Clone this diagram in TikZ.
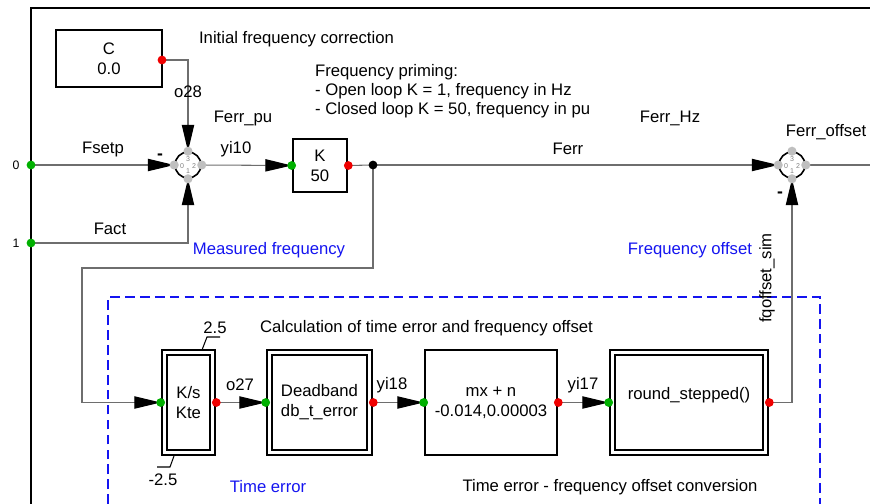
\documentclass[tikz,border=0pt]{standalone}
\usepackage{fontspec}
\setmainfont{Liberation Sans}
\usetikzlibrary{arrows.meta, positioning, calc}
\definecolor{portgreen}{RGB}{0,176,0}
\definecolor{portred}{RGB}{240,0,0}
\definecolor{sigline}{RGB}{110,110,110}
\definecolor{notblue}{RGB}{20,20,240}
\begin{document}
\begin{tikzpicture}[
  x=0.02cm, y=-0.02cm,
  every node/.style={font=\fontsize{9.5}{11.5}\selectfont, inner sep=1pt},
  block/.style={draw, line width=1.5pt, align=center, inner sep=0pt},
  dblock/.style={block, path picture={
      \draw[line width=0.9pt]
        ([shift={(3pt,-3pt)}]path picture bounding box.north west) rectangle
        ([shift={(-3pt,3pt)}]path picture bounding box.south east);}},
  sumnode/.style={draw, circle, line width=0.9pt, minimum size=0.52cm, inner sep=0pt},
  sig/.style={draw=sigline, line width=0.6pt},
  arr/.style={sig, -{Triangle[length=15pt, width=7pt, color=black]}},
  note/.style={align=left, anchor=west},
  blue note/.style={text=notblue},
  digit/.style={font=\fontsize{4}{4}\selectfont, text=gray, inner sep=0pt}
]
  \useasboundingbox (0,0) rectangle (870,504);

  % frame and time error group
  \draw[line width=1pt] (31,504) -- (31,8) -- (870,8);
  \draw[notblue, line width=0.6pt, dash pattern=on 5.5pt off 3pt]
    (108,504) -- (108,297) -- (820,297) -- (820,504);

  % blocks
  \node[block, minimum width=2.12cm, minimum height=1.14cm] (C)  at (109,58.5) {C\\0.0};
  \node[block, minimum width=1.08cm, minimum height=1.06cm] (K)  at (320,165.5) {K\\50};
  \node[dblock, minimum width=1.06cm, minimum height=2.1cm] (Ks) at (188.5,402.5) {K/s\\Kte};
  \node[dblock, minimum width=2.1cm,  minimum height=2.1cm] (DB) at (319.5,402.5) {Deadband\\db\_t\_error};
  \node[block,  minimum width=2.64cm, minimum height=2.1cm] (MX) at (491,402.5) {mx + n\\-0.014,0.00003};
  \node[dblock, minimum width=3.16cm, minimum height=2.1cm] (RS) at (689,402.5) {};
  \node (RStxt) at (689,395) {round\_stepped()};

  % summing points
  \node[sumnode] (sum1) at (188,165) {};
  \node[sumnode] (sum2) at (792,165) {};
  \foreach \s in {sum1, sum2} {
    \node[digit] at ([yshift=3.2pt]\s.center)  {3};
    \node[digit] at ([xshift=-3.4pt,yshift=-0.6pt]\s.center) {0};
    \node[digit] at ([xshift=3.4pt,yshift=-0.6pt]\s.center)  {2};
    \node[digit] at ([yshift=-3.6pt]\s.center) {1};
  }

  % terminals and junctions
  \coordinate (in0) at (31,165);
  \coordinate (in1) at (31,243);
  \coordinate (jn)  at (373,165);
  \coordinate (out) at (870,165);
  \coordinate (fb1) at (373,268);
  \coordinate (fb2) at (82,268);

  % connectors
  \draw[arr] (C.east |- 0,60) -| (sum1.north);
  \draw[arr] (in0) -- (sum1.west);
  \draw[arr] (in1) -| (sum1.south);
  \draw[arr] (sum1.east) -- (K.west);
  \draw[sig] (K.east) -- (jn);
  \draw[arr] (jn) -- (sum2.west);
  \draw[sig] (sum2.east) -- (out);
  \draw[arr] (jn) -- (fb1) -- (fb2) |- (Ks.west);
  \draw[arr] (Ks.east) -- (DB.west);
  \draw[arr] (DB.east) -- (MX.west);
  \draw[arr] (MX.east) -- (RS.west);
  \draw[arr] (RS.east) -| (sum2.south);

  % limiter marks
  \draw[line width=0.6pt] (202,350) -- (207,337) -- (220,337);
  \draw[line width=0.6pt] (174,456) -- (170,467) -- (157,467);

  % ports
  \foreach \p in {sum1.west, sum1.east, sum1.north, sum1.south,
                  sum2.west, sum2.east, sum2.north, sum2.south}
    \fill[gray!50] (\p) circle (2.6pt);
  \foreach \p in {in0, in1, K.west, Ks.west, DB.west, MX.west, RS.west}
    \fill[portgreen] (\p) circle (2.5pt);
  \foreach \p in {K.east, Ks.east, DB.east, MX.east, RS.east}
    \fill[portred] (\p) circle (2.5pt);
  \fill[portred] (162,60) circle (2.5pt);
  \fill (jn) circle (2.5pt);

  % signal labels
  \node[font=\fontsize{7}{8}\selectfont] (l0) at (16,165) {0};
  \node[font=\fontsize{7}{8}\selectfont] (l1) at (16,243) {1};
  \node (lo28)   at (188,92)  {o28};
  \node (lpu)    at (243,118) {Ferr\_pu};
  \node (lsetp)  at (103,149) {Fsetp};
  \node (lact)   at (110,229) {Fact};
  \node (lyi10)  at (236,149) {yi10};
  \node (lerr)   at (568,149) {Ferr};
  \node (lhz)    at (670,118) {Ferr\_Hz};
  \node (loff)   at (826,132) {Ferr\_offset};
  \node (lfq)    at (767,278) [rotate=90] {fqoffset\_sim};
  \node (lo27)   at (240,385) {o27};
  \node (lyi18)  at (392,385) {yi18};
  \node (lyi17)  at (583,385) {yi17};
  \node (lmax)   at (215,328) {2.5};
  \node (lmin)   at (163,480) {-2.5};
  \node[font=\bfseries] (neg1) at (160,157) {-};
  \node[font=\bfseries] (neg2) at (780,195) {-};

  % comments
  \node[note] (tinit) at (197,39) {Initial frequency correction};
  \node[note, anchor=north west, font=\fontsize{9.5}{10.8}\selectfont] (tprim) at (313,62)
    {Frequency priming:\\- Open loop K = 1, frequency in Hz\\- Closed loop K = 50, frequency in pu};
  \node[blue note] (tmeas) at (269,250) {Measured frequency};
  \node[blue note] (tfoff) at (690,250) {Frequency offset};
  \node[note] (tcalc) at (258,328) {Calculation of time error and frequency offset};
  \node[blue note] (tterr) at (268,487) {Time error};
  \node (tconv) at (610,487) {Time error - frequency offset conversion};
\end{tikzpicture}
\end{document}
